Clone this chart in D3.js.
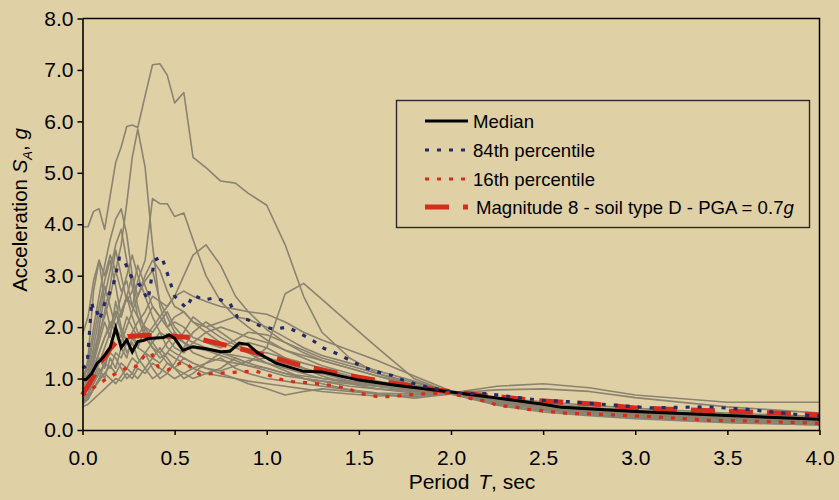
<!DOCTYPE html>
<html>
<head>
<meta charset="utf-8">
<script src="https://cdn.jsdelivr.net/npm/d3@7"></script>
<style>
  body { margin: 0; background: #dfd0a6; }
  svg { display: block; font-family: "Liberation Sans", Arial, sans-serif; }
</style>
</head>
<body>
<div id="chart"></div>
<script>
// period grid used by the individual records (sec)
const periods = [0, 0.03, 0.06, 0.09, 0.12, 0.15, 0.18, 0.21, 0.24, 0.27, 0.3, 0.34, 0.38, 0.42, 0.46, 0.5,
  0.55, 0.6, 0.67, 0.75, 0.83, 0.9, 1.0, 1.1, 1.2, 1.3, 1.45, 1.6, 1.8, 2.0, 2.25, 2.5, 2.75, 3.0, 3.5, 4.0]

// spectral acceleration of each ground motion record (g)
const records = [
  [3.95, 3.95, 4.25, 4.3, 3.9, 4.55, 5.2, 5.5, 5.9, 5.93, 5.88, 6.5, 7.1, 7.12, 6.9, 6.36, 6.56, 5.3, 5.1, 4.84, 4.8, 4.6, 4.37, 3.6, 2.6, 1.9, 1.4, 1.1, 0.87, 0.73, 0.6, 0.5, 0.42, 0.36, 0.28, 0.22],
  [0.9, 1.1, 1.5, 1.9, 2.2, 2.6, 3.1, 3.6, 4.4, 5.3, 5.85, 5.1, 3.6, 2.4, 2.0, 1.8, 1.7, 1.6, 1.55, 1.5, 1.4, 1.3, 1.2, 1.1, 1.0, 0.95, 0.85, 0.8, 0.75, 0.72, 0.6, 0.48, 0.4, 0.33, 0.25, 0.19],
  [0.7, 0.8, 1.2, 1.5, 1.8, 2.0, 2.3, 2.2, 2.6, 2.4, 2.9, 3.3, 4.5, 4.4, 4.4, 4.15, 4.22, 3.7, 3.0, 2.5, 2.2, 2.0, 1.75, 1.55, 1.4, 1.25, 1.1, 0.95, 0.82, 0.72, 0.58, 0.46, 0.38, 0.32, 0.24, 0.18],
  [0.6, 0.7, 0.9, 1.1, 1.3, 1.2, 1.5, 1.4, 1.7, 1.9, 2.1, 2.3, 2.6, 2.5, 2.4, 2.6, 3.0, 3.4, 3.6, 3.2, 2.6, 2.3, 1.95, 1.7, 1.5, 1.35, 1.2, 1.05, 0.88, 0.73, 0.57, 0.45, 0.37, 0.3, 0.22, 0.16],
  [0.55, 0.6, 0.8, 1.0, 1.1, 1.25, 1.1, 1.3, 1.2, 1.4, 1.3, 1.5, 1.4, 1.3, 1.5, 1.4, 1.3, 1.2, 1.1, 1.2, 1.4, 1.3, 1.6, 2.65, 2.85, 2.54, 2.07, 1.6, 1.0, 0.72, 0.55, 0.42, 0.34, 0.28, 0.2, 0.14],
  [1.85, 2.2, 2.9, 3.3, 3.0, 3.4, 3.1, 2.7, 2.9, 2.4, 2.2, 2.0, 1.9, 2.1, 2.3, 2.0, 1.8, 1.7, 1.6, 1.5, 1.45, 1.4, 1.3, 1.2, 1.1, 1.0, 0.95, 0.88, 0.8, 0.72, 0.62, 0.55, 0.48, 0.42, 0.33, 0.26],
  [1.0, 1.3, 2.0, 2.6, 3.2, 3.7, 4.1, 4.3, 3.8, 3.0, 2.6, 2.9, 3.1, 2.5, 2.2, 1.9, 1.7, 1.6, 1.55, 1.45, 1.35, 1.25, 1.15, 1.05, 1.0, 0.95, 0.9, 0.85, 0.78, 0.72, 0.85, 0.9, 0.82, 0.68, 0.54, 0.54],
  [0.8, 1.0, 1.4, 1.8, 2.3, 2.8, 3.5, 3.0, 2.5, 2.7, 3.2, 2.8, 2.4, 2.2, 2.0, 2.2, 2.3, 2.1, 1.9, 1.7, 1.6, 1.5, 1.4, 1.3, 1.2, 1.1, 1.0, 0.9, 0.8, 0.72, 0.78, 0.8, 0.75, 0.63, 0.45, 0.33],
  [0.45, 0.5, 0.6, 0.7, 0.8, 0.9, 1.0, 0.95, 1.1, 1.0, 1.2, 1.1, 1.3, 1.2, 1.1, 1.0, 1.1, 1.0, 1.1, 1.05, 1.0, 0.95, 0.9, 0.85, 0.8, 0.75, 0.7, 0.66, 0.68, 0.72, 0.55, 0.4, 0.3, 0.24, 0.16, 0.11],
  [0.6, 0.7, 0.9, 1.2, 1.0, 1.4, 1.2, 1.6, 1.4, 1.8, 1.6, 2.0, 1.7, 1.5, 1.3, 1.2, 1.4, 1.3, 1.2, 1.1, 1.0, 0.9, 0.8, 0.68, 0.75, 0.8, 0.75, 0.7, 0.65, 0.7, 0.5, 0.38, 0.3, 0.24, 0.15, 0.1],
  [0.9, 1.1, 1.6, 2.2, 2.8, 2.4, 2.0, 2.3, 2.6, 2.2, 1.9, 1.8, 2.0, 2.2, 2.4, 2.6, 2.7, 2.6, 2.5, 2.4, 2.35, 2.3, 2.25, 2.1, 1.9, 1.75, 1.55, 1.35, 1.05, 0.76, 0.6, 0.5, 0.42, 0.36, 0.27, 0.2],
  [0.7, 0.9, 1.3, 1.7, 2.1, 1.8, 2.5, 2.0, 1.7, 1.9, 1.6, 1.5, 1.7, 1.9, 1.8, 1.6, 1.5, 1.7, 1.9, 2.0, 1.9, 1.8, 1.7, 1.55, 1.45, 1.35, 1.2, 1.05, 0.85, 0.72, 0.52, 0.42, 0.35, 0.29, 0.21, 0.15],
  [0.5, 0.6, 0.8, 1.0, 1.3, 1.5, 1.4, 1.2, 1.0, 1.1, 1.3, 1.5, 1.2, 1.0, 1.1, 1.3, 1.6, 1.9, 2.1, 1.9, 1.7, 1.5, 1.3, 1.15, 1.0, 0.9, 0.78, 0.7, 0.62, 0.7, 0.48, 0.35, 0.28, 0.22, 0.14, 0.1],
  [0.8, 1.4, 2.7, 3.3, 2.5, 2.0, 2.3, 1.9, 1.5, 1.7, 1.4, 1.2, 1.0, 1.1, 1.3, 1.2, 1.0, 1.1, 1.3, 1.4, 1.2, 1.1, 1.0, 0.95, 0.9, 0.85, 0.78, 0.72, 0.7, 0.72, 0.56, 0.44, 0.36, 0.3, 0.21, 0.16],
  [1.0, 1.2, 1.8, 2.4, 2.9, 3.3, 2.8, 2.2, 2.6, 3.0, 2.4, 1.9, 1.6, 1.4, 1.5, 1.7, 1.9, 2.2, 2.0, 1.8, 1.65, 1.55, 1.5, 1.4, 1.3, 1.2, 1.05, 0.92, 0.8, 0.72, 0.58, 0.47, 0.39, 0.33, 0.25, 0.19],
  [0.6, 0.7, 1.0, 1.3, 1.6, 1.9, 2.2, 2.6, 3.0, 3.4, 3.0, 2.6, 2.2, 1.9, 1.6, 1.5, 1.4, 1.3, 1.2, 1.15, 1.25, 1.35, 1.4, 1.3, 1.2, 1.1, 0.95, 0.85, 0.75, 0.72, 0.53, 0.41, 0.33, 0.27, 0.19, 0.13],
  [0.9, 1.0, 1.2, 1.5, 1.8, 2.1, 1.9, 1.7, 2.0, 2.3, 2.6, 3.0, 3.3, 3.1, 2.7, 2.4, 2.3, 2.1, 2.0, 2.1, 2.2, 2.15, 2.0, 1.8, 1.6, 1.45, 1.3, 1.15, 0.95, 0.73, 0.6, 0.5, 0.43, 0.37, 0.29, 0.24],
  [0.55, 0.65, 0.8, 0.95, 1.1, 1.0, 0.9, 1.05, 1.2, 1.1, 1.0, 1.2, 1.4, 1.6, 1.4, 1.2, 1.1, 1.2, 1.3, 1.5, 1.6, 1.7, 1.6, 1.4, 1.2, 1.05, 0.9, 0.8, 0.72, 0.72, 0.54, 0.42, 0.34, 0.28, 0.19, 0.14],
  [0.75, 0.9, 1.3, 2.0, 2.6, 3.1, 3.6, 3.9, 3.3, 2.8, 2.2, 1.8, 1.6, 1.5, 1.7, 1.9, 1.7, 1.5, 1.4, 1.35, 1.3, 1.25, 1.2, 1.1, 1.05, 1.0, 0.92, 0.85, 0.78, 0.72, 0.57, 0.45, 0.37, 0.31, 0.22, 0.17],
  [0.65, 0.8, 1.1, 1.4, 1.2, 1.6, 2.0, 1.8, 2.2, 2.0, 1.8, 2.1, 2.4, 2.2, 2.0, 2.1, 2.0, 1.8, 1.7, 1.6, 1.75, 1.9, 1.85, 1.7, 1.55, 1.4, 1.25, 1.1, 0.92, 0.74, 0.62, 0.52, 0.44, 0.38, 0.3, 0.24]
]

// median of the records
const medianT = [0, 0.02, 0.05, 0.08, 0.1, 0.12, 0.15, 0.18, 0.21, 0.24, 0.27, 0.3, 0.33, 0.36, 0.4, 0.44, 0.47, 0.5, 0.545,
  0.6, 0.67, 0.75, 0.8, 0.85, 0.9, 0.95, 1.05, 1.2, 1.3, 1.5, 1.7, 2.0, 2.25, 2.5, 2.6, 3.0, 3.5, 4.0]
const medianS = [0.98, 0.98, 1.1, 1.3, 1.36, 1.45, 1.6, 1.98, 1.6, 1.75, 1.52, 1.72, 1.74, 1.78, 1.79, 1.8, 1.85, 1.78, 1.55,
  1.62, 1.58, 1.52, 1.53, 1.69, 1.66, 1.5, 1.3, 1.14, 1.13, 0.97, 0.87, 0.74, 0.62, 0.5, 0.44, 0.36, 0.28, 0.21]

// 84th percentile
const p84T = [0, 0.025, 0.04, 0.05, 0.06, 0.075, 0.094, 0.12, 0.166, 0.2, 0.22, 0.265, 0.31, 0.356, 0.39, 0.43, 0.46, 0.5,
  0.564, 0.6, 0.66, 0.72, 0.8, 0.84, 0.9, 0.96, 1.04, 1.11, 1.18, 1.25, 1.31, 1.385, 1.46, 1.52, 1.6, 1.68, 1.74, 1.81,
  1.89, 2.05, 2.19, 2.34, 2.48, 2.64, 2.71, 3.08, 3.39, 3.61, 3.91, 4.0]
const p84S = [1.2, 1.26, 2.0, 2.5, 2.3, 2.33, 2.14, 2.47, 2.8, 3.34, 3.34, 2.98, 2.82, 2.53, 3.3, 3.37, 3.05, 2.6,
  2.37, 2.62, 2.53, 2.57, 2.46, 2.2, 2.14, 2.03, 1.96, 2.0, 1.88, 1.74, 1.59, 1.48, 1.34, 1.23, 1.13, 1.06, 0.97, 0.89,
  0.82, 0.71, 0.71, 0.64, 0.58, 0.55, 0.53, 0.43, 0.45, 0.4, 0.29, 0.28]

// 16th percentile
const p16T = [0, 0.02, 0.094, 0.15, 0.2, 0.265, 0.29, 0.34, 0.375, 0.41, 0.465, 0.53, 0.564, 0.6, 0.64, 0.71, 0.82, 0.935,
  1.0, 1.07, 1.14, 1.215, 1.3, 1.37, 1.45, 1.51, 1.6, 1.67, 1.74, 1.82, 1.99, 2.12, 2.19, 2.26, 2.34, 2.42, 2.49, 2.64,
  2.72, 3.09, 3.39, 3.61, 4.0]
const p16S = [0.68, 0.72, 0.91, 1.04, 1.13, 1.26, 1.23, 1.46, 1.49, 1.23, 1.17, 1.3, 1.3, 1.17, 1.07, 1.1, 1.12, 1.15,
  1.08, 0.99, 0.94, 0.92, 0.89, 0.86, 0.79, 0.71, 0.65, 0.65, 0.67, 0.7, 0.72, 0.6, 0.56, 0.47, 0.45, 0.4, 0.375, 0.32,
  0.32, 0.26, 0.19, 0.175, 0.13]

// design spectrum, magnitude 8, soil D, PGA 0.7g
const designT = [0, 0.05, 0.1, 0.15, 0.19, 0.25, 0.35, 0.45, 0.55, 0.6, 0.73, 0.925, 1.18, 1.43, 1.685, 2.0, 2.44, 2.79,
  3.0, 3.21, 3.42, 3.62, 3.83, 4.0]
const designS = [0.68, 0.98, 1.32, 1.58, 1.74, 1.82, 1.84, 1.83, 1.81, 1.8, 1.69, 1.52, 1.26, 1.07, 0.91, 0.74, 0.58, 0.5,
  0.43, 0.4, 0.375, 0.35, 0.32, 0.29]

const xTicks = [0, 0.5, 1.0, 1.5, 2.0, 2.5, 3.0, 3.5, 4.0]
const yTicks = [0, 1, 2, 3, 4, 5, 6, 7, 8]
const legendLabels = ["Median", "84th percentile", "16th percentile", "Magnitude 8 - soil type D - PGA = 0.7"]

const w = 839, h = 500
const margin = {top: 18.5, left: 82.5, right: 19.5, bottom: 70}
const innerW = w - margin.left - margin.right
const innerH = h - margin.top - margin.bottom

const svg = d3.select("#chart").append("svg")
  .attr("width", w)
  .attr("height", h)

svg.append("rect").attr("width", w).attr("height", h).attr("fill", "#dfd0a6")

const g = svg.append("g")
  .attr("transform", `translate(${margin.left},${margin.top})`)

const x = d3.scaleLinear().domain([0, 4]).range([0, innerW])
const y = d3.scaleLinear().domain([0, 8]).range([innerH, 0])

const line = d3.line().x(d => x(d[0])).y(d => y(d[1]))

// grey records
g.append("g").selectAll("path")
  .data(records)
  .enter().append("path")
  .attr("d", r => line(r.map((v, i) => [periods[i], v])))
  .attr("fill", "none")
  .attr("stroke", "#8a8370")
  .attr("stroke-width", 1.6)
  .attr("stroke-linejoin", "round")

const zip = (t, s) => t.map((v, i) => [v, s[i]])

const styles = [
  {data: zip(medianT, medianS), color: "#000", width: 3, dash: null},
  {data: zip(p84T, p84S), color: "#242a66", width: 3.2, dash: "4,8"},
  {data: zip(p16T, p16S), color: "#d62c1c", width: 3.2, dash: "4,8"},
  {data: zip(designT, designS), color: "#d62c1c", width: 5, dash: "24,14"}
]

// design spectrum drawn under the statistics
const order = [3, 0, 1, 2]
order.forEach(k => {
  const s = styles[k]
  g.append("path")
    .attr("d", line(s.data))
    .attr("fill", "none")
    .attr("stroke", s.color)
    .attr("stroke-width", s.width)
    .attr("stroke-dasharray", s.dash)
})

// axes
const yAxis = g.append("g")
  .call(d3.axisLeft(y).tickValues(yTicks).tickFormat(d3.format(".1f")).tickSize(5).tickSizeOuter(0).tickPadding(4))
const xAxis = g.append("g")
  .attr("transform", `translate(0,${innerH})`)
  .call(d3.axisBottom(x).tickValues(xTicks).tickFormat(d3.format(".1f")).tickSize(5).tickSizeOuter(0).tickPadding(15))

;[xAxis, yAxis].forEach(a => {
  a.selectAll("text").attr("font-size", "21px").attr("fill", "#000")
    .attr("font-family", "'Liberation Sans', Arial, sans-serif")
  a.selectAll("line").attr("stroke", "#000").attr("stroke-width", 1.5)
  a.select(".domain").attr("stroke", "#000").attr("stroke-width", 1.6)
})

// top and right frame
g.append("path")
  .attr("d", `M0,0H${innerW}V${innerH}`)
  .attr("fill", "none")
  .attr("stroke", "#000")
  .attr("stroke-width", 1.5)

// axis titles
const xt = svg.append("text")
  .attr("x", 472)
  .attr("y", 489)
  .attr("text-anchor", "middle")
  .attr("font-size", "21px")
xt.append("tspan").text("Period ")
xt.append("tspan").attr("font-style", "italic").attr("dx", 3).text("T")
xt.append("tspan").text(", sec")

const yt = svg.append("text")
  .attr("transform", "translate(27,210) rotate(-90)")
  .attr("text-anchor", "middle")
  .attr("font-size", "20.5px")
yt.append("tspan").text("Acceleration ")
yt.append("tspan").attr("font-style", "italic").text("S")
yt.append("tspan").attr("font-style", "italic").attr("font-size", "13px").attr("dy", 5).text("A")
yt.append("tspan").attr("dy", -5).text(", ")
yt.append("tspan").attr("font-style", "italic").text("g")

// legend
const legend = svg.append("g").attr("transform", "translate(396.5,100.5)")
legend.append("rect")
  .attr("width", 413)
  .attr("height", 127)
  .attr("fill", "none")
  .attr("stroke", "#2a2a2a")
  .attr("stroke-width", 1.4)

const rowY = [20.5, 49.5, 78.5, 106.5]
styles.forEach((s, i) => {
  legend.append("line")
    .attr("x1", 28.5).attr("x2", 71.5)
    .attr("y1", rowY[i]).attr("y2", rowY[i])
    .attr("stroke", s.color)
    .attr("stroke-width", s.width)
    .attr("stroke-dasharray", s.dash)
  const t = legend.append("text")
    .attr("x", i == 3 ? 79.5 : 76.5)
    .attr("y", rowY[i] + 6.5)
    .attr("font-size", "18.6px")
    .text(legendLabels[i])
  if (i == 3) t.append("tspan").attr("font-style", "italic").text("g")
})
</script>
</body>
</html>
